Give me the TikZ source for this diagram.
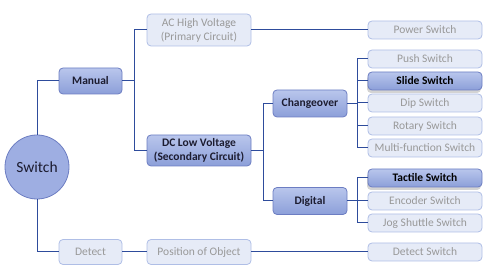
\documentclass[tikz,border=0pt]{standalone}
\usepackage{fontspec}
\setmainfont{Carlito}
\usetikzlibrary{shadows}
\definecolor{lnc}{HTML}{2E4C9C}
\definecolor{mtop}{HTML}{B9C6EC}
\definecolor{mbot}{HTML}{8C9FD9}
\definecolor{mdraw}{HTML}{6C7DC2}
\definecolor{ffill}{HTML}{E6EBF7}
\definecolor{fdraw}{HTML}{AFBEE6}
\definecolor{ftext}{HTML}{999999}
\definecolor{mtext}{HTML}{1C1C30}
\definecolor{cfill}{HTML}{9EAEE2}
\tikzset{
  box/.style={rounded corners=4pt, inner sep=0pt, line width=0.8pt, align=center,
    font=\fontsize{11.5}{14}\selectfont},
  mainbox/.style={box, draw=mdraw, top color=mtop, bottom color=mbot, text=mtext,
    font=\fontsize{11.5}{14}\selectfont\bfseries},
  fadebox/.style={box, draw=fdraw, fill=ffill, text=ftext},
  hlbox/.style={box, draw=mdraw, top color=mtop, bottom color=mbot, text=black,
    font=\fontsize{11.5}{14}\selectfont\bfseries,
    drop shadow={shadow xshift=-1pt, shadow yshift=-3pt, opacity=0.35}},
  leaf/.style={minimum width=114pt, minimum height=18pt},
  mid/.style={minimum width=104pt, minimum height=32pt},
  lvl/.style={minimum width=74pt, minimum height=27pt},
  conn/.style={draw=lnc, line width=1pt}
}
\begin{document}
\begin{tikzpicture}[x=1pt,y=-1pt]
\useasboundingbox (0,0) rectangle (499,275);
% root
\node[circle, minimum size=64pt, inner sep=0pt, fill=cfill, draw=mdraw, line width=0.8pt,
  font=\fontsize{15.5}{18}\selectfont, text=mtext] (sw) at (37,167) {Switch};
% level 1
\node[mainbox, minimum width=63pt, minimum height=26pt] (manual) at (90.5,81) {Manual};
\node[fadebox, minimum width=63pt, minimum height=25pt] (detect) at (90.5,252) {Detect};
% level 2
\node[fadebox, mid] (ac) at (199,30) {AC High Voltage\\(Primary Circuit)};
\node[mainbox, mid, minimum height=31pt] (dc) at (199,150.5) {DC Low Voltage\\(Secondary Circuit)};
\node[fadebox, minimum width=104pt, minimum height=25pt] (pos) at (199,252) {Position of Object};
% level 3
\node[mainbox, lvl] (chg) at (310,103.5) {Changeover};
\node[mainbox, lvl] (dig) at (310,201) {Digital};
% leaves
\node[fadebox, leaf] (power) at (425,30) {Power Switch};
\node[fadebox, leaf] (push) at (425,59) {Push Switch};
\node[hlbox, leaf] (slide) at (425,81) {Slide Switch};
\node[fadebox, leaf] (dip) at (425,103) {Dip Switch};
\node[fadebox, leaf] (rot) at (425,126) {Rotary Switch};
\node[fadebox, leaf] (multi) at (425,148) {Multi-function Switch};
\node[hlbox, leaf] (tact) at (425,178) {Tactile Switch};
\node[fadebox, leaf] (enc) at (425,201) {Encoder Switch};
\node[fadebox, leaf] (jog) at (425,223) {Jog Shuttle Switch};
\node[fadebox, leaf] (dsw) at (425,252) {Detect Switch};
% junctions
\coordinate (j1) at (134,81);
\coordinate (j2) at (263,150.5);
\coordinate (j3) at (357,103.5);
\coordinate (j4) at (357,201);
% connectors
\begin{scope}[conn]
\draw (sw) |- (manual);
\draw (sw) |- (detect);
\draw (manual) -- (j1);
\draw (j1) |- (ac);
\draw (j1) |- (dc);
\draw (ac) -- (power);
\draw (dc) -- (j2);
\draw (j2) |- (chg);
\draw (j2) |- (dig);
\draw (chg) -- (j3);
\draw (j3) |- (push);
\draw (j3) |- (slide);
\draw (j3) |- (dip);
\draw (j3) |- (rot);
\draw (j3) |- (multi);
\draw (dig) -- (j4);
\draw (j4) |- (tact);
\draw (j4) |- (enc);
\draw (j4) |- (jog);
\draw (detect) -- (pos);
\draw (pos) -- (dsw);
\end{scope}
\end{tikzpicture}
\end{document}
